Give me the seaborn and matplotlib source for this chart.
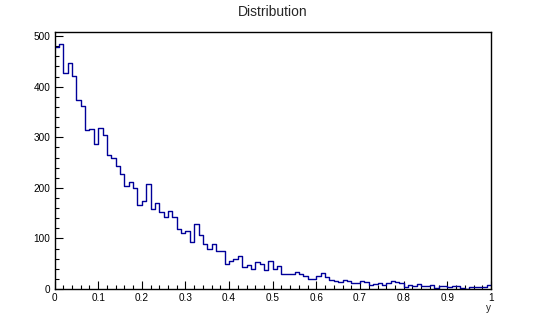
import numpy as np
import pandas as pd
import matplotlib
matplotlib.use("Agg")
import matplotlib.pyplot as plt
import seaborn as sns
from matplotlib.ticker import MultipleLocator, FixedLocator

counts = [479, 484, 427, 447, 421, 374, 361, 314, 316, 286,
          318, 305, 264, 259, 243, 228, 204, 212, 200, 167,
          175, 207, 159, 170, 152, 142, 154, 142, 118, 110,
          115, 92, 128, 106, 89, 79, 89, 76, 76, 49,
          56, 59, 65, 44, 47, 40, 53, 49, 38, 56,
          39, 45, 30, 30, 30, 33, 30, 26, 19, 19,
          25, 31, 23, 17, 15, 13, 17, 15, 11, 11,
          15, 13, 7, 9, 11, 7, 11, 15, 14, 12,
          3, 8, 5, 9, 5, 6, 7, 2, 6, 5,
          4, 6, 6, 2, 0, 3, 4, 4, 3, 8]
x_min, x_max = 0.0, 1.0
n_bins = len(counts)
x_ticks = [0, 0.1, 0.2, 0.3, 0.4, 0.5, 0.6, 0.7, 0.8, 0.9, 1]
x_tick_labels = ["0", "0.1", "0.2", "0.3", "0.4", "0.5", "0.6", "0.7", "0.8", "0.9", "1"]
y_ticks = [0, 100, 200, 300, 400, 500]
title = "Distribution"
x_label = "y"

edges = np.linspace(x_min, x_max, n_bins + 1)
centers = (edges[:-1] + edges[1:]) / 2
df = pd.DataFrame({"y": centers, "w": counts})

sns.set_style("white")
plt.rcParams["font.family"] = ["Liberation Sans", "DejaVu Sans"]

fig = plt.figure(figsize=(5.46, 3.22), dpi=100)
ax = fig.add_axes([54.5 / 546, 33 / 322, 436.5 / 546, 257 / 322])

sns.histplot(data=df, x="y", weights="w", bins=n_bins, binrange=(x_min, x_max),
             element="step", fill=False, color="#000099", linewidth=1.0, ax=ax)

ax.set_xlim(x_min, x_max)
ax.set_ylim(0, max(counts) * 1.05)
ax.xaxis.set_major_locator(FixedLocator(x_ticks))
ax.set_xticklabels(x_tick_labels)
ax.xaxis.set_minor_locator(MultipleLocator(0.02))
ax.yaxis.set_major_locator(FixedLocator(y_ticks))
ax.set_yticklabels([str(v) for v in y_ticks])
ax.yaxis.set_minor_locator(MultipleLocator(20))

ax.tick_params(which="both", direction="in", top=False, right=False,
               bottom=True, left=True, labelsize=7.2, colors="black", pad=3)
ax.tick_params(which="major", length=5.5, width=0.8)
ax.tick_params(which="minor", length=3, width=0.8)

for s in ax.spines.values():
    s.set_visible(True)
    s.set_color("black")
    s.set_linewidth(1.0)

ax.set_ylabel("")
ax.set_xlabel(x_label, loc="right", fontsize=7.2, labelpad=0)
fig.text(0.5, 0.963, title, ha="center", va="center", fontsize=10)

fig.savefig("out.png", dpi=100, facecolor="white")
